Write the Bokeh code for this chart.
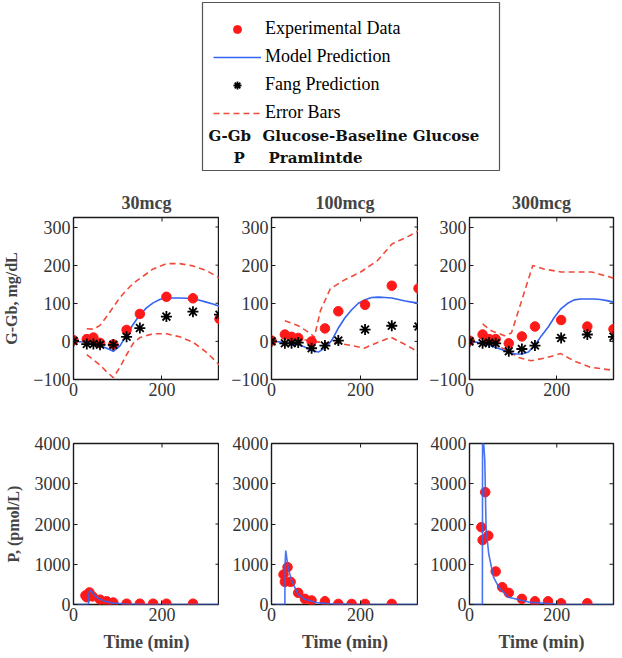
import math
from bokeh.plotting import figure
from bokeh.models import Range1d, FixedTicker, Legend, LegendItem, Label
from bokeh.layouts import column, row
from bokeh.embed import file_html
from bokeh.resources import INLINE

# ---------------- data ----------------
titles = ["30mcg", "100mcg", "300mcg"]

# glucose (G - Gb, mg/dL)
t_glu = [0, 30, 45, 60, 90, 120, 150, 210, 270, 330]
exp_30 = [3, 6, 10, -4, -8, 30, 72, 117, 113, 59]
exp_100 = [2, 18, 12, 9, 0, 34, 79, 96, 146, 139]
exp_300 = [2, 18, 6, 6, -5, 13, 39, 56, 39, 32]
fang_30 = [1, -7, -7, -9, -9, 12, 35, 65, 78, 70]
fang_100 = [0, -5, -5, -3, -18, -11, 2, 31, 41, 39]
fang_300 = [0, -5, -3, -5, -26, -20, -11, 9, 18, 12]

t_mod = [0, 15, 30, 45, 60, 75, 90, 105, 120, 135, 150, 165, 180, 195, 210,
         225, 240, 255, 270, 285, 300, 315, 330]
mod_30 = [0, -1, -3, -6, -11, -18, -26, -12, 17, 45, 70, 88, 101, 110, 114,
          114, 114, 113, 111, 108, 103, 98, 92]
mod_100 = [0, -1, -3, -6, -9, -15, -24, -28, -17, 2, 35, 62, 83, 100, 109,
           115, 116, 115, 114, 110, 106, 103, 100]
mod_300 = [0, -2, -5, -10, -16, -22, -29, -33, -33, -28, -10, 15, 37, 64, 86,
           100, 109, 111, 111, 111, 110, 107, 103]

t_up_30 = [30, 45, 60, 75, 90, 105, 120, 135, 150, 180, 210, 240, 270, 300, 330]
up_30 = [33, 32, 42, 65, 90, 115, 135, 152, 165, 190, 204, 204, 198, 186, 166]
t_lo_30 = [30, 45, 60, 75, 90, 105, 120, 135, 150, 180, 210, 240, 270, 300, 330]
lo_30 = [-35, -48, -62, -80, -95, -68, -35, -5, 10, 20, 20, 12, -2, -28, -62]

t_up_100 = [30, 45, 60, 75, 90, 96, 110, 132, 162, 200, 238, 271, 305, 330]
up_100 = [54, 48, 41, 30, 18, 10, 81, 138, 160, 182, 212, 256, 274, 290]
t_lo_100 = [30, 45, 60, 90, 120, 150, 180, 208, 238, 268, 298, 330]
lo_100 = [15, 12, 8, 0, -3, -5, -11, -18, -3, 11, -7, -28]

t_up_300 = [30, 50, 80, 96, 145, 170, 210, 250, 280, 330]
up_300 = [46, 28, 15, 22, 199, 190, 182, 182, 182, 166]
t_lo_300 = [30, 60, 90, 111, 141, 179, 209, 239, 277, 330]
lo_300 = [2, -10, -25, -42, -51, -42, -32, -51, -68, -76]

# pramlintide (pmol/L)
t_p = [27, 30, 36, 43, 60, 75, 90, 120, 150, 180, 210, 270]
p_30 = [224, 180, 300, 200, 120, 80, 50, 20, 20, 20, 20, 20]
p_100 = [745, 563, 927, 563, 290, 140, 100, 80, 15, 15, 15, 15]
p_300 = [1920, 1600, 2790, 1710, 820, 430, 290, 140, 80, 80, 30, 30]

tm_30 = [0, 34, 35, 38, 45, 55, 70, 90, 120, 160, 330]
pm_30 = [0, 0, 300, 360, 260, 160, 80, 35, 12, 3, 0]
tm_100 = [0, 30, 30.5, 32, 37, 45, 59, 75, 100, 130, 180, 330]
pm_100 = [0, 0, 1000, 1340, 930, 600, 265, 130, 50, 15, 3, 0]
tm_300 = [0, 29.5, 30, 35, 38, 44, 55, 67, 89, 136, 200, 330]
pm_300 = [0, 0, 4400, 3600, 1900, 1260, 680, 430, 180, 60, 8, 0]

x_lim = (0, 330)
glu_lim = (-100, 325)
p_lim = (0, 4000)
glu_ticks = [-100, 0, 100, 200, 300]
p_ticks = [0, 1000, 2000, 3000, 4000]
t_ticks = [0, 200]

# ---------------- styling ----------------
SERIF = "Liberation Serif"
RED = "#ff1a1a"
BLUE = "#3464f0"
DASH = "#f04a3a"
FRAME = "#1a1a1a"
left_b = [73, 52, 51]
frame_w = [146, 147, 144]
right_b = [0, 0, 7]


def style_axis(ax, ticks):
    ax.ticker = FixedTicker(ticks=ticks)
    ax.major_tick_in = 4
    ax.major_tick_out = 0
    ax.minor_tick_line_color = None
    ax.major_tick_line_color = FRAME
    ax.axis_line_color = None
    ax.major_label_text_font = SERIF
    ax.major_label_text_font_size = "18px"
    ax.major_label_text_color = "#333333"
    ax.major_label_standoff = 3


def make_panel(i, top):
    if top:
        ylim, fh, bt, bb, yt = glu_lim, 162, 37, 30, glu_ticks
    else:
        ylim, fh, bt, bb, yt = p_lim, 161, 34, 52, p_ticks
    p = figure(x_range=Range1d(*x_lim), y_range=Range1d(*ylim),
               frame_width=frame_w[i], frame_height=fh,
               min_border_left=left_b[i], min_border_right=right_b[i],
               min_border_top=bt, min_border_bottom=bb,
               output_backend="svg", toolbar_location=None,
               title=titles[i] if top else None)
    p.xgrid.grid_line_color = None
    p.ygrid.grid_line_color = None
    p.outline_line_color = FRAME
    p.outline_line_width = 1.4
    p.background_fill_color = "white"
    p.border_fill_color = "white"
    xa = p.xaxis[0]
    ya = p.yaxis[0]
    style_axis(xa, t_ticks)
    style_axis(ya, yt)
    # inward tick marks on the right and top edges of the frame
    p.scatter([x_lim[1]] * len(yt), yt, marker="dash", size=8,
              line_color=FRAME, line_width=1)
    p.scatter(t_ticks, [ylim[1]] * len(t_ticks), marker="dash", size=8,
              angle=math.pi / 2, line_color=FRAME, line_width=1)
    if top:
        p.title.text_font = SERIF
        p.title.text_font_style = "bold"
        p.title.text_font_size = "18px"
        p.title.align = "center"
    if i == 0:
        ya.axis_label = "G-Gb, mg/dL" if top else "P, (pmol/L)"
        ya.axis_label_text_font = SERIF
        ya.axis_label_text_font_style = "bold"
        ya.axis_label_text_font_size = "16px"
        ya.axis_label_standoff = 10
    if not top:
        xa.axis_label = "Time (min)"
        xa.axis_label_text_font = SERIF
        xa.axis_label_text_font_style = "bold"
        xa.axis_label_text_font_size = "18px"
        xa.axis_label_standoff = 8
    return p


glu_sets = [
    (exp_30, fang_30, mod_30, t_up_30, up_30, t_lo_30, lo_30),
    (exp_100, fang_100, mod_100, t_up_100, up_100, t_lo_100, lo_100),
    (exp_300, fang_300, mod_300, t_up_300, up_300, t_lo_300, lo_300),
]
p_sets = [(p_30, tm_30, pm_30), (p_100, tm_100, pm_100), (p_300, tm_300, pm_300)]

top_figs = []
for i, (ex, fa, mo, tu, up, tl, lo) in enumerate(glu_sets):
    p = make_panel(i, True)
    p.line(tu, up, line_color=DASH, line_width=1.6, line_dash="6 4")
    p.line(tl, lo, line_color=DASH, line_width=1.6, line_dash="6 4")
    p.line(t_mod, mo, line_color=BLUE, line_width=1.6)
    p.scatter(t_glu, ex, marker="circle", size=9.5, fill_color=RED, line_color=RED)
    p.scatter(t_glu, fa, marker="asterisk", size=11, line_color="black", line_width=1.8)
    top_figs.append(p)

bot_figs = []
for i, (pv, tm, pm) in enumerate(p_sets):
    p = make_panel(i, False)
    p.scatter(t_p, pv, marker="circle", size=9.5, fill_color=RED, line_color=RED)
    p.line(tm, pm, line_color=BLUE, line_width=1.6, line_alpha=0.9)
    bot_figs.append(p)

# ---------------- legend box ----------------
BOX_W, BOX_H = 297, 168
lg = figure(x_range=Range1d(0, BOX_W), y_range=Range1d(BOX_H, 0),
            frame_width=BOX_W, frame_height=BOX_H,
            min_border_left=202, min_border_right=121,
            min_border_top=2, min_border_bottom=10,
            output_backend="svg", toolbar_location=None)
lg.axis.visible = False
lg.xgrid.grid_line_color = None
lg.ygrid.grid_line_color = None
lg.outline_line_color = "#555555"
lg.outline_line_width = 1.2
# sample renderers for the legend (their single point lies outside the box)
off = [-100]
r_exp = lg.scatter(off, off, marker="circle", size=9.5, fill_color=RED, line_color=RED)
r_mod = lg.line(off, off, line_color=BLUE, line_width=1.6)
r_fang = lg.scatter(off, off, marker="asterisk", size=11, line_color="black", line_width=1.8)
r_err = lg.line(off, off, line_color=DASH, line_width=1.6, line_dash="6 4")
legend = Legend(items=[
    LegendItem(label="Experimental Data", renderers=[r_exp]),
    LegendItem(label="Model Prediction", renderers=[r_mod]),
    LegendItem(label="Fang Prediction", renderers=[r_fang]),
    LegendItem(label="Error Bars", renderers=[r_err]),
], location=(11, 47))
legend.margin = 0
legend.padding = 0
legend.spacing = 7
legend.glyph_width = 48
legend.glyph_height = 20
legend.label_height = 20
legend.label_standoff = 4
legend.border_line_color = None
legend.background_fill_alpha = 0
legend.label_text_font = SERIF
legend.label_text_font_size = "18px"
legend.label_text_color = "black"
lg.add_layout(legend, "center")

for x, y, txt in [(6, 133, "G-Gb"), (60, 133, "Glucose-Baseline Glucose"),
                  (31, 155, "P"), (66, 155, "Pramlintde")]:
    lg.add_layout(Label(x=x, y=y, text=txt, text_font="DejaVu Serif",
                        text_font_style="bold", text_font_size="15px",
                        text_baseline="middle", text_color="#111111"))

layout = column(lg, row(*top_figs), row(*bot_figs))
open("out.html", "w").write(file_html(layout, INLINE, "chart"))
